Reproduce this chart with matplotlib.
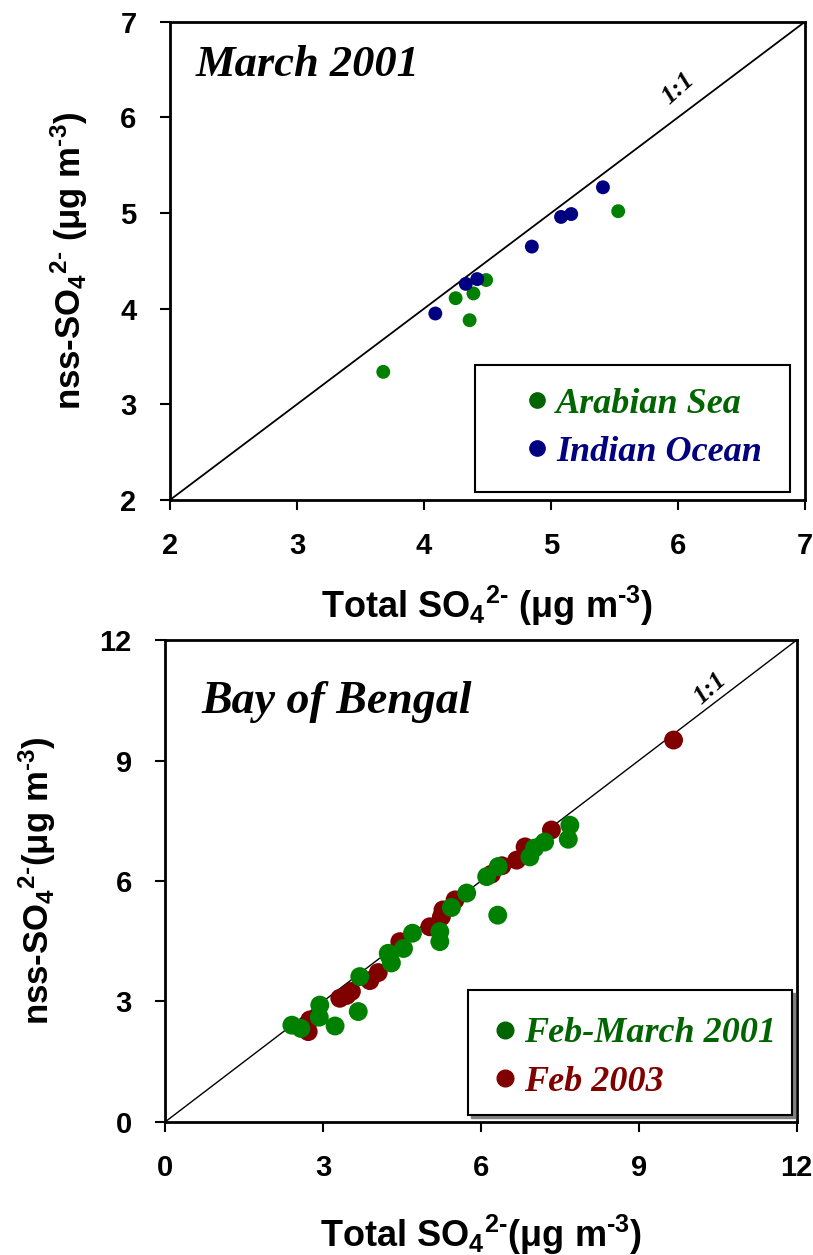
import matplotlib
matplotlib.use('Agg')
import matplotlib.pyplot as plt
from matplotlib.lines import Line2D
from matplotlib.patches import Rectangle
from matplotlib.transforms import offset_copy

# top panel: March 2001 (total SO4 vs nss-SO4, ug m-3)
arabian_total = [3.68, 4.25, 4.36, 4.39, 4.49, 5.53]
arabian_nss = [3.34, 4.11, 3.88, 4.16, 4.30, 5.02]
indian_total = [4.09, 4.33, 4.42, 4.85, 5.08, 5.16, 5.41]
indian_nss = [3.95, 4.26, 4.31, 4.65, 4.96, 4.99, 5.27]

# bottom panel: Bay of Bengal
fm2001_total = [2.41, 2.58, 2.93, 2.94, 3.23, 3.67, 3.70, 4.24, 4.26, 4.30, 4.53, 4.70,
                5.22, 5.22, 5.44, 5.73, 6.11, 6.33, 6.32, 6.93, 7.02, 7.21, 7.66, 7.69]
fm2001_nss = [2.41, 2.33, 2.61, 2.91, 2.39, 2.75, 3.62, 4.20, 4.13, 3.96, 4.32, 4.70,
              4.74, 4.49, 5.34, 5.70, 6.11, 6.36, 5.15, 6.60, 6.82, 6.97, 7.04, 7.39]
feb2003_total = [2.72, 2.75, 3.32, 3.45, 3.54, 3.89, 4.05, 4.46, 5.03, 5.25, 5.28, 5.51,
                 6.20, 6.40, 6.68, 6.84, 7.34, 9.66]
feb2003_nss = [2.25, 2.54, 3.08, 3.15, 3.25, 3.52, 3.72, 4.49, 4.86, 5.11, 5.28, 5.53,
               6.17, 6.38, 6.52, 6.85, 7.27, 9.51]

top_ticks = [2, 3, 4, 5, 6, 7]
bottom_ticks = [0, 3, 6, 9, 12]

GREEN = '#008000'
LEG_GREEN = '#006400'
NAVY = '#000080'
DARKRED = '#800000'

plt.rcParams['font.family'] = 'Liberation Sans'
plt.rcParams['font.weight'] = 'bold'
plt.rcParams['mathtext.fontset'] = 'custom'
plt.rcParams['mathtext.rm'] = 'Liberation Sans:bold'
plt.rcParams['mathtext.it'] = 'Liberation Sans:bold'
plt.rcParams['mathtext.bf'] = 'Liberation Sans:bold'

SERIF = 'Liberation Serif'
LEG_FONT = {'family': SERIF, 'style': 'italic', 'weight': 'bold', 'size': 26}


def style_axes(ax, lim, ticks, lw):
    ax.set_xlim(lim)
    ax.set_ylim(lim)
    ax.set_xticks(ticks)
    ax.set_yticks(ticks)
    for s in ax.spines.values():
        s.set_linewidth(2.0)
    ax.tick_params(direction='out', length=7, width=1.5, labelsize=21,
                   top=False, right=False)
    ax.tick_params(axis='x', pad=16)
    ax.tick_params(axis='y', pad=17)
    for lab in ax.get_xticklabels() + ax.get_yticklabels():
        lab.set_fontweight('bold')
    ax.plot(lim, lim, color='black', lw=lw, zorder=1)


def add_legend(ax, handles, labels, colors, frame, anchor, shadow=False):
    # frame drawn by hand so the inner padding can follow the reference
    x0, y0, w, h = frame
    if shadow:
        tr = offset_copy(ax.transAxes, fig=ax.figure, x=3, y=-3, units='dots')
        ax.add_patch(Rectangle((x0, y0), w, h, transform=tr, facecolor='#808080',
                               edgecolor='#808080', lw=1.0, zorder=5, clip_on=False))
    ax.add_patch(Rectangle((x0, y0), w, h, transform=ax.transAxes, facecolor='white',
                           edgecolor='black', lw=1.5, zorder=6, clip_on=False))
    leg = ax.legend(handles, labels, loc='center left', bbox_to_anchor=anchor,
                    prop=LEG_FONT, frameon=False, borderpad=0, borderaxespad=0,
                    handletextpad=0.12, handlelength=0.8, labelspacing=0.42)
    leg.set_zorder(7)
    for t, c in zip(leg.get_texts(), colors):
        t.set_color(c)
    return leg


fig = plt.figure(figsize=(8.13, 12.55), dpi=100)

# ---- top panel ----
ax1 = fig.add_axes([0.209, 0.6016, 0.781, 0.381])
style_axes(ax1, (2, 7), top_ticks, 1.3)
ax1.scatter(arabian_total, arabian_nss, s=100, color=GREEN, edgecolors='none', zorder=3)
ax1.scatter(indian_total, indian_nss, s=100, color=NAVY, edgecolors='none', zorder=3)
ax1.text(2.2, 6.55, 'March 2001', fontsize=32, family=SERIF, style='italic',
         fontweight='bold', ha='left', va='center')
ax1.text(6.0, 6.3, '1:1', fontsize=19, family=SERIF, style='italic',
         fontweight='bold', rotation=42, ha='center', va='center')
ax1.set_xlabel(r'Total SO$_{4}$$^{\text{2-}}$ (μg m$^{\text{-3}}$)', fontsize=26,
               fontweight='bold', labelpad=17)
ax1.set_ylabel(r'nss-SO$_{4}$$^{\text{2-}}$ (μg m$^{\text{-3}}$)', fontsize=25,
               fontweight='bold', labelpad=22)
h1 = [Line2D([], [], ls='none', marker='o', ms=11, color=LEG_GREEN),
      Line2D([], [], ls='none', marker='o', ms=11, color=NAVY)]
add_legend(ax1, h1, ['Arabian Sea', 'Indian Ocean'], [LEG_GREEN, NAVY],
           (0.48, 0.017, 0.496, 0.265), (0.556, 0.150))

# ---- bottom panel ----
ax2 = fig.add_axes([0.203, 0.106, 0.777, 0.384])
style_axes(ax2, (0, 12), bottom_ticks, 1.0)
ax2.scatter(feb2003_total, feb2003_nss, s=185, color=DARKRED, edgecolors='none', zorder=3)
ax2.scatter(fm2001_total, fm2001_nss, s=185, color=GREEN, edgecolors='none', zorder=4)
ax2.text(0.7, 10.45, 'Bay of Bengal', fontsize=33, family=SERIF, style='italic',
         fontweight='bold', ha='left', va='center')
ax2.text(10.35, 10.8, '1:1', fontsize=19, family=SERIF, style='italic',
         fontweight='bold', rotation=42, ha='center', va='center')
ax2.set_xlabel(r'Total SO$_{4}$$^{\text{2-}}$(μg m$^{\text{-3}}$)', fontsize=26,
               fontweight='bold', labelpad=22)
ax2.set_ylabel(r'nss-SO$_{4}$$^{\text{2-}}$(μg m$^{\text{-3}}$)', fontsize=25,
               fontweight='bold', labelpad=30)
h2 = [Line2D([], [], ls='none', marker='o', ms=12, color=LEG_GREEN),
      Line2D([], [], ls='none', marker='o', ms=12, color=DARKRED)]
add_legend(ax2, h2, ['Feb-March 2001', 'Feb 2003'], [LEG_GREEN, DARKRED],
           (0.479, 0.0145, 0.514, 0.26), (0.515, 0.133), shadow=True)

fig.savefig('out.png', dpi=100)
